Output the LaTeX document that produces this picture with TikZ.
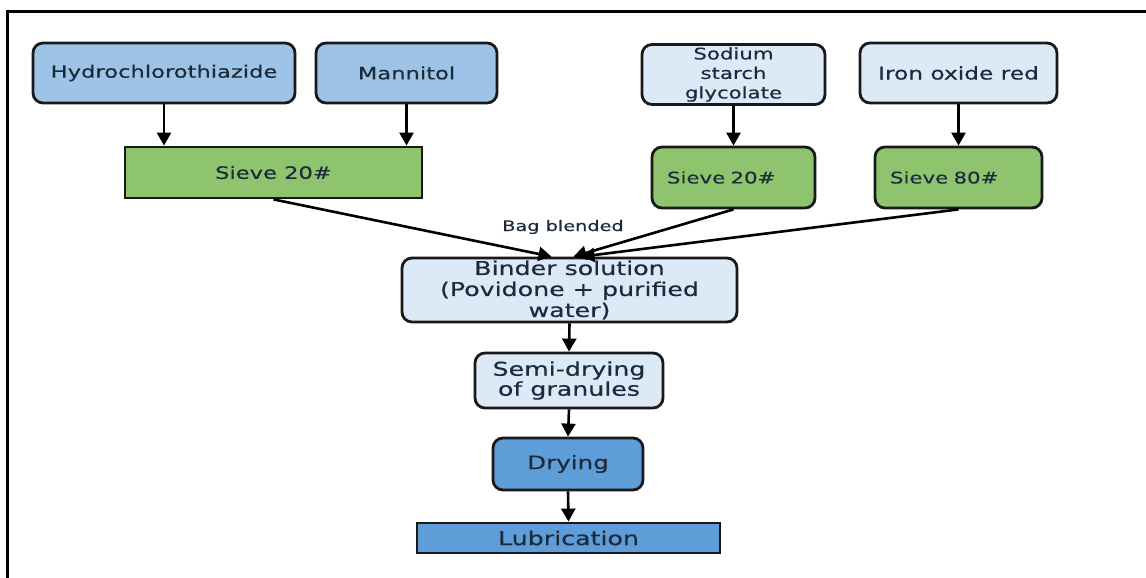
\documentclass[tikz,border=0pt]{standalone}
\usepackage{fontspec}
\setmainfont{DejaVu Sans}[FakeStretch=1.33,FakeBold=0.4]
\usetikzlibrary{arrows.meta,calc}
\definecolor{midblue}{HTML}{9DC3E6}
\definecolor{paleblue}{HTML}{DCE9F6}
\definecolor{sgreen}{HTML}{8FC46F}
\definecolor{darkblue}{HTML}{5F9DD8}
\definecolor{txt}{HTML}{1C2B3A}
\begin{document}
\begin{tikzpicture}[x=1pt,y=-1pt,
  box/.style={draw=black!90, line width=2.8pt, text=txt, align=center, inner sep=0pt,
    font=\fontsize{17}{19}\selectfont},
  rbox/.style={box, rounded corners=10pt},
  big/.style={font=\fontsize{19}{20}\selectfont},
  arr/.style={line width=2.6pt, -{Triangle[length=13pt,width=14pt]}}]
\useasboundingbox (0,0) rectangle (1146,578);
\draw[line width=3pt] (7,578) -- (7,12) -- (1146,12);
% top row
\node[rbox, fill=midblue, minimum width=262pt, minimum height=60pt] (hyd) at (164,73) {Hydrochlorothiazide};
\node[rbox, fill=midblue, minimum width=181pt, minimum height=60pt] (man) at (406.5,73) {Mannitol};
\node[rbox, fill=paleblue, minimum width=183pt, minimum height=60pt, font=\fontsize{16}{19.5}\selectfont] (sod) at (733.5,74.5) {Sodium\\starch\\glycolate};
\node[rbox, fill=paleblue, minimum width=197pt, minimum height=60pt, font=\fontsize{17.5}{19}\selectfont] (iron) at (958.5,73) {Iron oxide red};
% sieves
\node[box, fill=sgreen, minimum width=297pt, minimum height=51pt] (sv1) at (273.5,172.5) {Sieve 20\#};
\node[rbox, fill=sgreen, minimum height=61pt, text width=133pt, inner xsep=15pt, align=left, font=\fontsize{16}{19}\selectfont] (sv2) at (733.5,177.5) {Sieve 20\#};
\node[rbox, fill=sgreen, minimum height=61pt, text width=137pt, inner xsep=15pt, align=left, font=\fontsize{16}{19}\selectfont] (sv3) at (958.5,177.5) {Sieve 80\#};
% lower chain
\node[rbox, fill=paleblue, minimum width=335pt, minimum height=64pt, font=\fontsize{19}{21}\selectfont] (bind) at (569.5,290) {Binder solution\\(Povidone + purified\\water)};
\node[rbox, fill=paleblue, minimum width=188pt, minimum height=55pt, big] (semi) at (569,380.5) {Semi-drying\\of granules};
\node[rbox, fill=darkblue, minimum width=150pt, minimum height=52pt, font=\fontsize{18.5}{20}\selectfont] (dry) at (568,464) {Drying};
\node[box, fill=darkblue, minimum width=303pt, minimum height=30pt, big] (lub) at (568.5,538) {Lubrication};
\node[text=txt, font=\fontsize{14.5}{16}\selectfont] (bag) at (563,227) {Bag blended};
% connectors
\draw[arr] (hyd.south) -- (hyd.south |- sv1.north);
\draw[arr] (man.south) -- (man.south |- sv1.north);
\draw[arr] (sod.south) -- (sv2.north);
\draw[arr] (iron.south) -- (sv3.north);
\draw[arr] (sv1.south) -- ($(bind.north)+(-18,0)$);
\draw[arr] (sv2.south) -- ($(bind.north)+(4,0)$);
\draw[arr] (sv3.south) -- ($(bind.north)+(12,0)$);
\draw[arr] (bind.south) -- (semi.north);
\draw[arr] (semi.south) -- (dry.north);
\draw[arr] (dry.south) -- (lub.north);
\end{tikzpicture}
\end{document}
